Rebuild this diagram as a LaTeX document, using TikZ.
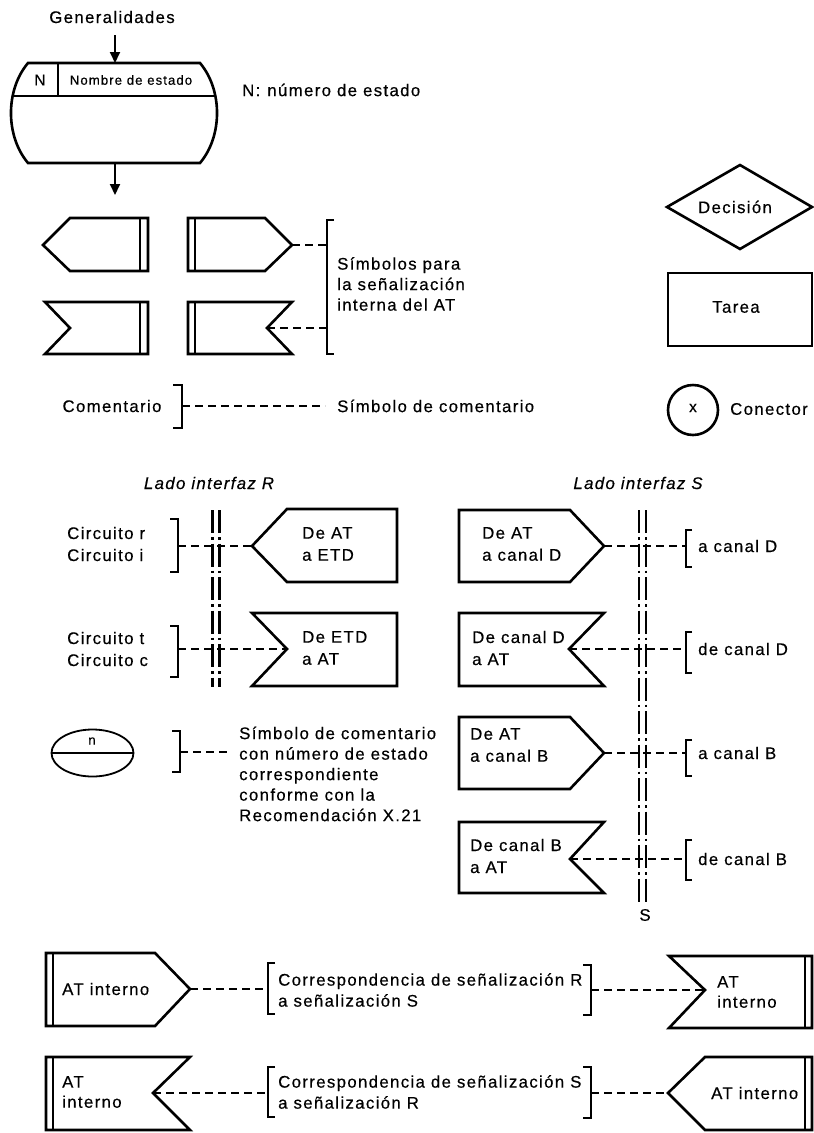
\documentclass[tikz,border=0pt]{standalone}
\usepackage{fontspec}
\setmainfont{Liberation Sans}[LetterSpace=8,FakeBold=0.4]
\usetikzlibrary{arrows.meta}
\newcommand{\fsmain}{\fontsize{16.8}{21}\selectfont}
\newcommand{\fssmall}{\fontsize{13.2}{15}\selectfont}
\begin{document}
\begin{tikzpicture}[x=1pt,y=-1pt,
  shp/.style={line width=2.6pt, line join=miter},
  thinl/.style={line width=1.8pt},
  con/.style={line width=2pt, dash pattern=on 8pt off 5pt},
  brk/.style={line width=2.6pt},
  iface/.style={line width=2.6pt, dash pattern=on 23pt off 4pt on 2.5pt off 4pt},
  txt/.style={font=\fsmain, inner sep=0pt, anchor=west, align=left},
  ctxt/.style={font=\fsmain, inner sep=0pt},
  arr/.style={line width=2pt, -{Triangle[length=11pt,width=10pt]}}]
\useasboundingbox (0,0) rectangle (814,1133);

% ---------- Generalidades / state symbol ----------
\node[ctxt] (gen) at (112,17) {Generalidades};
\coordinate (genArr) at (115,35);
\coordinate (stTop) at (115,63);
\coordinate (stBot) at (115,163);
\coordinate (outArr) at (115,195);
\draw[shp] (28,63) -- (200,63) .. controls (222.7,90) and (222.7,136) .. (200,163)
  -- (28,163) .. controls (5.3,136) and (5.3,90) .. (28,63) -- cycle;
\begin{scope}
  \clip (28,63) -- (200,63) .. controls (222.7,90) and (222.7,136) .. (200,163)
    -- (28,163) .. controls (5.3,136) and (5.3,90) .. (28,63) -- cycle;
  \draw[shp] (0,96) -- (230,96);
  \draw[thinl] (58,63) -- (58,96);
\end{scope}
\node[font=\fontsize{15.5}{17}\selectfont, inner sep=0pt] (stN) at (40,80) {N};
\node[font=\fssmall, inner sep=0pt] (stName) at (131,80) {Nombre de estado};
\draw[arr] (genArr) -- (stTop);
\draw[arr] (stBot) -- (outArr);
\node[txt] (nlab) at (242,90) {N:\hspace{7pt}número de estado};

% ---------- internal signalling symbols ----------
\coordinate (s1tip) at (43,245);
\coordinate (s2tip) at (292,245);
\coordinate (s3notch) at (70,328);
\coordinate (s4notch) at (267,328);
\draw[shp] (70,218) -- (148,218) -- (148,271) -- (70,271) -- (s1tip) -- cycle;
\draw[thinl] (140,218) -- (140,271);
\draw[shp] (188,218) -- (265,218) -- (s2tip) -- (265,271) -- (188,271) -- cycle;
\draw[thinl] (195,218) -- (195,271);
\draw[shp] (45,302) -- (148,302) -- (148,354) -- (45,354) -- (s3notch) -- cycle;
\draw[thinl] (140,302) -- (140,354);
\draw[shp] (188,302) -- (292,302) -- (s4notch) -- (292,354) -- (188,354) -- cycle;
\draw[thinl] (195,302) -- (195,354);
\coordinate (b1a) at (327,245);
\coordinate (b1b) at (327,328);
\draw[brk] (334,220) -- (327,220) -- (327,354) -- (334,354);
\draw[con] (s2tip) -- (b1a);
\draw[con] (s4notch) -- (b1b);
\node[txt, font=\fontsize{16.8}{20.5}\selectfont] (simb) at (337,284) {Símbolos para\\la señalización\\interna del AT};

% ---------- comment symbol ----------
\node[ctxt] (coment) at (112,406) {Comentario};
\coordinate (b2) at (182,406);
\coordinate (b2end) at (325,406);
\draw[brk] (173,385) -- (182,385) -- (182,428) -- (173,428);
\node[txt] (simcom) at (337,406) {Símbolo de comentario};
\draw[con] (b2) -- (b2end);

% ---------- decision / task / connector ----------
\node[ctxt] (dec) at (735,207) {Decisión};
\draw[shp] (667,207) -- (740,165) -- (812,207) -- (740,249) -- cycle;
\draw[shp] (668,273) rectangle (812,346);
\node[ctxt] (tarea) at (736,307) {Tarea};
\draw[shp] (693,410) circle[radius=25pt];
\node[font=\fontsize{15.5}{17}\selectfont, inner sep=0pt] (cx) at (693,408) {x};
\node[txt] (conec) at (730,409) {Conector};

% ---------- interface R side ----------
\node[ctxt, font=\fsmain\itshape] (ladoR) at (209,483) {Lado interfaz R};
\draw[iface] (212.5,510) -- (212.5,687);
\draw[iface] (219.5,510) -- (219.5,687);

\node[txt, font=\fontsize{16.8}{22}\selectfont] (cri) at (67,544) {Circuito r\\Circuito i};
\coordinate (b3) at (178,546);
\draw[brk] (170,519) -- (178,519) -- (178,572) -- (170,572);
\coordinate (r1tip) at (252,546);
\draw[shp] (r1tip) -- (287,509) -- (397,509) -- (397,582) -- (287,582) -- cycle;
\node[txt, font=\fontsize{16.8}{22}\selectfont] (r1t) at (302,544) {De AT\\a ETD};
\draw[con] (b3) -- (r1tip);

\node[txt, font=\fontsize{16.8}{22}\selectfont] (ctc) at (67,649) {Circuito t\\Circuito c};
\coordinate (b4) at (178,649);
\draw[brk] (170,626) -- (178,626) -- (178,677) -- (170,677);
\coordinate (r2notch) at (287,649);
\draw[shp] (252,613) -- (397,613) -- (397,686) -- (252,686) -- (r2notch) -- cycle;
\node[txt, font=\fontsize{16.8}{22}\selectfont] (r2t) at (302,648) {De ETD\\a AT};
\draw[con] (b4) -- (r2notch);

% ---------- comment with state number ----------
\draw[thinl] (92.5,753) ellipse[x radius=41pt, y radius=23.5pt];
\draw[thinl] (51.5,753) -- (133.5,753);
\node[font=\fssmall, inner sep=0pt] (en) at (92,741) {n};
\coordinate (b5) at (180,752);
\coordinate (b5end) at (230,752);
\draw[brk] (172,731) -- (180,731) -- (180,772) -- (172,772);
\node[txt, font=\fontsize{16.8}{20.5}\selectfont] (sc) at (239,774) {Símbolo de comentario\\con número de estado\\correspondiente\\conforme con la\\Recomendación X.21};
\draw[con] (b5) -- (b5end);

% ---------- interface S side ----------
\node[ctxt, font=\fsmain\itshape] (ladoS) at (638,483) {Lado interfaz S};
\draw[iface] (639,510) -- (639,903);
\draw[iface] (646,510) -- (646,903);
\node[ctxt] (slab) at (645,915) {S};

\coordinate (sAtip) at (604,546);
\draw[shp] (459,510) -- (570,510) -- (sAtip) -- (570,582) -- (459,582) -- cycle;
\node[txt, font=\fontsize{16.8}{22}\selectfont] (sAt) at (482,544) {De AT\\a canal D};
\coordinate (bA) at (686,546);
\draw[brk] (692,530) -- (686,530) -- (686,567) -- (692,567);
\node[txt] (sAl) at (698,546) {a canal D};
\draw[con] (sAtip) -- (bA);

\coordinate (sBnotch) at (569,649);
\draw[shp] (459,613) -- (604,613) -- (sBnotch) -- (604,686) -- (459,686) -- cycle;
\node[txt, font=\fontsize{16.8}{22}\selectfont] (sBt) at (472,648) {De canal D\\a AT};
\coordinate (bB) at (686,649);
\draw[brk] (692,632) -- (686,632) -- (686,673) -- (692,673);
\node[txt] (sBl) at (698,649) {de canal D};
\draw[con] (sBnotch) -- (bB);

\coordinate (sCtip) at (604,753);
\draw[shp] (459,717) -- (570,717) -- (sCtip) -- (570,789) -- (459,789) -- cycle;
\node[txt, font=\fontsize{16.8}{22}\selectfont] (sCt) at (470,745) {De AT\\a canal B};
\coordinate (bC) at (686,753);
\draw[brk] (692,740) -- (686,740) -- (686,776) -- (692,776);
\node[txt] (sCl) at (698,753) {a canal B};
\draw[con] (sCtip) -- (bC);

\coordinate (sDnotch) at (570,859);
\draw[shp] (459,822) -- (604,822) -- (sDnotch) -- (604,893) -- (459,893) -- cycle;
\node[txt, font=\fontsize{16.8}{22}\selectfont] (sDt) at (470,856) {De canal B\\a AT};
\coordinate (bD) at (686,859);
\draw[brk] (692,840) -- (686,840) -- (686,880) -- (692,880);
\node[txt] (sDl) at (698,859) {de canal B};
\draw[con] (sDnotch) -- (bD);

% ---------- correspondence rows ----------
\coordinate (c1tip) at (190,989);
\draw[shp] (46,953) -- (155,953) -- (c1tip) -- (155,1026) -- (46,1026) -- cycle;
\draw[thinl] (53,953) -- (53,1026);
\node[txt] (c1t) at (62,989) {AT interno};
\coordinate (c1bl) at (268,989);
\draw[brk] (275,963) -- (268,963) -- (268,1014) -- (275,1014);
\node[txt] (c1m) at (278,990) {Correspondencia de señalización R\\a señalización S};
\coordinate (c1br) at (591,990);
\draw[brk] (583,965) -- (591,965) -- (591,1015) -- (583,1015);
\coordinate (c1notch) at (705,990);
\draw[shp] (669,956) -- (812,956) -- (812,1028) -- (669,1028) -- (c1notch) -- cycle;
\draw[thinl] (805,956) -- (805,1028);
\node[txt, font=\fontsize{16.8}{20}\selectfont] (c1r) at (717,992) {AT\\interno};
\draw[con] (c1tip) -- (c1bl);
\draw[con] (c1br) -- (c1notch);

\coordinate (c2notch) at (153,1093);
\draw[shp] (46,1057) -- (190,1057) -- (c2notch) -- (190,1130) -- (46,1130) -- cycle;
\draw[thinl] (53,1057) -- (53,1130);
\node[txt, font=\fontsize{16.8}{20}\selectfont] (c2t) at (62,1092) {AT\\interno};
\coordinate (c2bl) at (268,1093);
\draw[brk] (275,1067) -- (268,1067) -- (268,1117) -- (275,1117);
\node[txt] (c2m) at (278,1092) {Correspondencia de señalización S\\a señalización R};
\coordinate (c2br) at (591,1093);
\draw[brk] (583,1067) -- (591,1067) -- (591,1118) -- (583,1118);
\coordinate (c2tip) at (668,1093);
\draw[shp] (c2tip) -- (705,1057) -- (812,1057) -- (812,1130) -- (705,1130) -- cycle;
\draw[thinl] (805,1057) -- (805,1130);
\node[txt] (c2r) at (711,1093) {AT interno};
\draw[con] (c2notch) -- (c2bl);
\draw[con] (c2br) -- (c2tip);
\end{tikzpicture}
\end{document}
